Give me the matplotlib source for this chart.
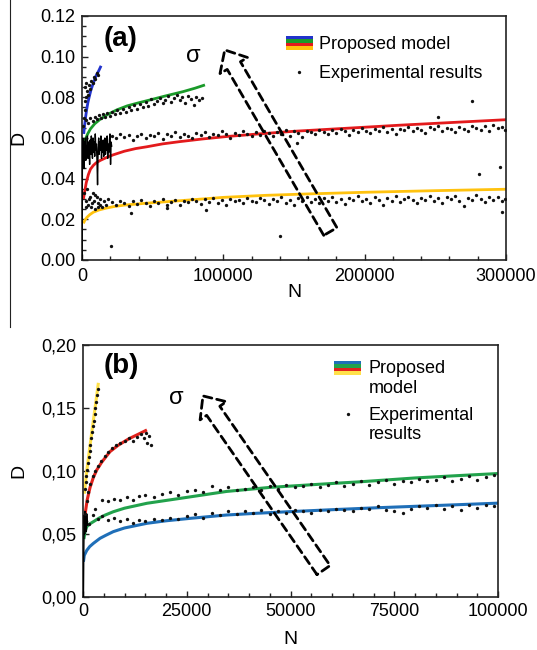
import matplotlib
matplotlib.use("Agg")
import matplotlib.pyplot as plt
from matplotlib.legend_handler import HandlerBase
from matplotlib.lines import Line2D
from matplotlib.patches import Rectangle
from matplotlib.ticker import MultipleLocator, FuncFormatter

plt.rcParams['font.family'] = ['Liberation Sans', 'DejaVu Sans']

# ---------------- panel (a) data ----------------
a_blue_N = [1200, 1800, 2500, 3300, 4200, 5200, 6300, 7500, 8800, 10200, 11800, 13500]
a_blue_D = [0.062, 0.066, 0.070, 0.074, 0.0775, 0.0805, 0.0835, 0.086, 0.0885, 0.091, 0.093, 0.0955]
a_green_N = [1500, 2500, 4000, 6000, 9000, 13000, 18000, 24500, 32000, 40000, 48000, 58000,
             71500, 80000, 87000]
a_green_D = [0.056, 0.0595, 0.062, 0.0645, 0.067, 0.0693, 0.0715, 0.0738, 0.0758, 0.0773,
             0.0787, 0.0805, 0.0828, 0.0845, 0.0861]
a_red_N = [1000, 2000, 3000, 4500, 6000, 8000, 10000, 13000, 17000, 22000, 30000, 38000, 46000,
           57000, 69000, 85000, 102000, 125000, 150000, 175000, 200000, 225000, 250000, 275000,
           300000]
a_red_D = [0.030, 0.034, 0.038, 0.042, 0.0447, 0.0465, 0.0478, 0.049, 0.0503, 0.0517, 0.0535,
           0.0548, 0.0557, 0.0571, 0.0582, 0.0595, 0.0607, 0.062, 0.0633, 0.0643, 0.0653, 0.0663,
           0.0672, 0.0681, 0.069]
a_yellow_N = [1000, 2000, 3500, 5500, 8000, 12000, 17000, 22000, 30000, 45000, 70000, 100000,
              130000, 160000, 200000, 250000, 300000]
a_yellow_D = [0.018, 0.0195, 0.021, 0.0223, 0.0235, 0.0246, 0.0255, 0.0262, 0.027, 0.0279, 0.0292,
              0.0308, 0.0318, 0.0325, 0.0333, 0.0341, 0.0348]

a_blue_exp_N = [800, 1200, 1800, 2300, 2800, 3500, 4200, 5000, 5800, 6600, 7500, 8500,
                9500, 10500, 11500, 2000, 3000]
a_blue_exp_D = [0.066, 0.070, 0.074, 0.078, 0.080, 0.083, 0.081, 0.086, 0.084, 0.088,
                0.087, 0.090, 0.089, 0.092, 0.091, 0.085, 0.087]

a_green_exp_N = [3000, 4500, 6000, 7500, 9000, 10500, 12000, 13500, 15000, 16500, 18000,
                 19500, 21000, 23000, 25000, 27000, 29000, 31000, 33000, 35000, 37000,
                 39000, 41000, 43000, 45000, 47000, 49000, 51000, 53000, 55000, 57000,
                 59000, 61000, 63000, 65000, 67000, 69000, 71000, 73000, 75000, 77000,
                 79000, 81000, 83000, 85000]
a_green_exp_D = [0.0690, 0.0672, 0.0700, 0.0685, 0.0705, 0.0692, 0.0712, 0.0698, 0.0718, 0.0704,
                 0.0725, 0.0710, 0.0730, 0.0716, 0.0738, 0.0722, 0.0745, 0.0730, 0.0752, 0.0738,
                 0.0760, 0.0745, 0.0768, 0.0750, 0.0775, 0.0758, 0.0790, 0.0765, 0.0782, 0.0798,
                 0.0770, 0.0788, 0.0805, 0.0778, 0.0795, 0.0812, 0.0785, 0.0800, 0.0772, 0.0808,
                 0.0790, 0.0760, 0.0802, 0.0785, 0.0795]

a_band_N = [21000, 24000, 27000, 30000, 33000, 36000, 39000, 42000, 45000, 48000,
            51000, 54000, 57000, 60000, 63000, 66000, 69000, 72000, 75000, 78000,
            81000, 84000, 87000, 90000, 93000, 96000, 99000, 102000, 105000, 108000,
            111000, 114000, 117000, 120000, 123000, 126000, 129000, 132000, 135000, 138000,
            141000, 144000, 147000, 150000, 153000, 156000, 159000, 162000, 165000, 168000,
            171000, 174000, 177000, 180000, 183000, 186000, 189000, 192000, 195000, 198000,
            201000, 204000, 207000, 210000, 213000, 216000, 219000, 222000, 225000, 228000,
            231000, 234000, 237000, 240000, 243000, 246000, 249000, 252000, 255000, 258000,
            261000, 264000, 267000, 270000, 273000, 276000, 279000, 282000, 285000, 288000,
            291000, 294000, 297000, 299000]
a_red_exp_D = [0.0612, 0.0598, 0.0620, 0.0605, 0.0615, 0.0592, 0.0610, 0.0622, 0.0600, 0.0614,
               0.0608, 0.0625, 0.0596, 0.0618, 0.0610, 0.0628, 0.0603, 0.0620, 0.0612, 0.0598,
               0.0624, 0.0615, 0.0630, 0.0606, 0.0622, 0.0613, 0.0632, 0.0618, 0.0600, 0.0626,
               0.0615, 0.0634, 0.0620, 0.0608, 0.0628, 0.0617, 0.0636, 0.0624, 0.0610, 0.0630,
               0.0621, 0.0640, 0.0612, 0.0632, 0.0625, 0.0606, 0.0635, 0.0628, 0.0618, 0.0641,
               0.0630, 0.0620, 0.0638, 0.0626, 0.0645, 0.0632, 0.0615, 0.0640, 0.0630, 0.0648,
               0.0636, 0.0624, 0.0645, 0.0634, 0.0652, 0.0628, 0.0642, 0.0620, 0.0646, 0.0638,
               0.0655, 0.0632, 0.0648, 0.0640, 0.0625, 0.0652, 0.0644, 0.0660, 0.0636, 0.0650,
               0.0642, 0.0628, 0.0656, 0.0646, 0.0635, 0.0660, 0.0650, 0.0640, 0.0658, 0.0632,
               0.0662, 0.0648, 0.0655, 0.0640]
a_yellow_exp_D = [0.0285, 0.0270, 0.0292, 0.0278, 0.0265, 0.0288, 0.0275, 0.0296, 0.0282, 0.0268,
                  0.0290, 0.0279, 0.0300, 0.0272, 0.0286, 0.0295, 0.0270, 0.0291, 0.0283, 0.0302,
                  0.0288, 0.0275, 0.0298, 0.0284, 0.0305, 0.0280, 0.0293, 0.0272, 0.0301, 0.0289,
                  0.0296, 0.0278, 0.0304, 0.0290, 0.0283, 0.0307, 0.0294, 0.0276, 0.0300, 0.0288,
                  0.0309, 0.0282, 0.0297, 0.0270, 0.0303, 0.0291, 0.0312, 0.0285, 0.0299, 0.0278,
                  0.0305, 0.0292, 0.0310, 0.0284, 0.0298, 0.0275, 0.0306, 0.0294, 0.0313, 0.0288,
                  0.0300, 0.0282, 0.0309, 0.0295, 0.0270, 0.0304, 0.0291, 0.0315, 0.0286, 0.0301,
                  0.0310, 0.0293, 0.0278, 0.0307, 0.0296, 0.0316, 0.0288, 0.0303, 0.0280, 0.0312,
                  0.0298, 0.0314, 0.0290, 0.0268, 0.0305, 0.0294, 0.0318, 0.0300, 0.0286, 0.0309,
                  0.0296, 0.0312, 0.0290, 0.0302]
a_yellow_early_N = [1500, 2500, 3500, 4500, 5500, 6500, 7500, 8500, 9500, 10500, 11500,
                    12500, 14000, 15500, 17000, 18500, 3000, 5000, 7000, 9000, 11000, 13000]
a_yellow_early_D = [0.033, 0.029, 0.035, 0.027, 0.031, 0.026, 0.033, 0.029, 0.025, 0.031, 0.028,
                    0.030, 0.026, 0.029, 0.027, 0.030, 0.026, 0.030, 0.028, 0.032, 0.026, 0.027]
a_outlier_N = [152000, 252000, 276000, 281000, 296000, 297000, 140000, 20300, 88000, 35000, 60000]
a_outlier_D = [0.0575, 0.0703, 0.078, 0.0423, 0.0456, 0.0238, 0.0118, 0.0069, 0.0246, 0.023, 0.0256]

a_noise_N = [100, 200, 300, 400, 600, 900, 1200, 1500, 1800, 2100, 2400, 2700, 3000,
             3400, 3800, 4200, 4600, 5000, 5400, 5800, 6200, 6600, 7000, 7400, 7800, 8200,
             8600, 9000, 9400, 9800, 10200, 10600, 11000, 11400, 11800, 12200, 12600, 13000,
             13400, 13800, 14200, 14600, 15000, 15400, 15800, 16200, 16600, 17000, 17400,
             17800, 18200, 18600, 19000, 19400, 19800, 20200, 20600, 21000]
a_noise_D = [0.000, 0.030, 0.058, 0.046, 0.060, 0.050, 0.057, 0.045, 0.058, 0.052,
             0.060, 0.049, 0.056, 0.053, 0.061, 0.050, 0.058, 0.054, 0.047, 0.059,
             0.052, 0.061, 0.055, 0.050, 0.060, 0.053, 0.058, 0.051, 0.062, 0.054,
             0.057, 0.049, 0.037, 0.055, 0.060, 0.052, 0.058, 0.054, 0.061, 0.050,
             0.057, 0.053, 0.059, 0.051, 0.056, 0.060, 0.052, 0.058, 0.054, 0.061,
             0.050, 0.057, 0.053, 0.059, 0.062, 0.047, 0.058, 0.056]

# ---------------- panel (b) data ----------------
b_yellow_N = [300, 900, 1600, 2400, 3100, 3700]
b_yellow_D = [0.082, 0.100, 0.118, 0.138, 0.155, 0.170]
b_red_N = [300, 600, 1000, 1700, 2500, 3300, 4500, 6500, 8500, 11000, 13500, 15400]
b_red_D = [0.058, 0.068, 0.077, 0.087, 0.095, 0.1008, 0.107, 0.1154, 0.1205, 0.1255, 0.1295, 0.1326]
b_green_N = [200, 500, 900, 1600, 2500, 3800, 5300, 7300, 10000, 15400, 23400, 34600, 45000,
             56000, 67000, 80000, 90000, 100000]
b_green_D = [0.046, 0.052, 0.0558, 0.058, 0.0598, 0.0625, 0.065, 0.0677, 0.0705, 0.0744, 0.0783,
             0.0838, 0.087, 0.0893, 0.0915, 0.0945, 0.0963, 0.098]
b_blue_N = [100, 300, 900, 1600, 2500, 4100, 5500, 7300, 10000, 15400, 20000, 26000, 34600,
            42000, 52000, 62000, 72000, 85000, 100000]
b_blue_D = [0.028, 0.033, 0.037, 0.040, 0.0426, 0.0466, 0.049, 0.0519, 0.0548, 0.0585, 0.0605,
            0.0625, 0.0651, 0.0665, 0.0681, 0.0696, 0.071, 0.0726, 0.0745]

b_yellow_exp_N = [400, 600, 800, 1000, 1200, 1400, 1600, 1800, 2000, 2200, 2400, 2600,
                  2800, 3000, 3200, 3400, 3600]
b_yellow_exp_D = [0.086, 0.091, 0.096, 0.101, 0.106, 0.111, 0.116, 0.121, 0.126, 0.131,
                  0.136, 0.140, 0.145, 0.150, 0.155, 0.160, 0.165]
b_red_exp_N = [500, 900, 1300, 1800, 2300, 2900, 3600, 4400, 5200, 6000, 7000, 8000, 9000,
               10000, 11000, 12000, 13000, 14000, 14800, 15500, 16000, 16300, 15200]
b_red_exp_D = [0.066, 0.076, 0.083, 0.090, 0.096, 0.100, 0.104, 0.108, 0.112, 0.115, 0.118,
               0.121, 0.122, 0.124, 0.126, 0.124, 0.127, 0.129, 0.126, 0.122, 0.128, 0.121, 0.130]
b_green_exp_N = [3000, 4500, 6000, 7500, 9000, 10500, 12000, 13500, 15000, 17000, 19000,
                 21000, 23000, 25000, 27000, 29000, 31000, 33000, 35000, 37000, 39000, 41000,
                 43000, 45000, 47000, 49000, 51000, 53000, 55000, 57000, 59000, 61000, 63000,
                 65000, 67000, 69000, 71000, 73000, 75000, 77000, 79000, 81000, 83000, 85000,
                 87000, 89000, 91000, 93000, 95000, 97000, 99000]
b_green_exp_D = [0.070, 0.077, 0.076, 0.078, 0.077, 0.079, 0.077, 0.080, 0.081, 0.079,
                 0.082, 0.083, 0.081, 0.084, 0.085, 0.083, 0.088, 0.085, 0.087, 0.085,
                 0.086, 0.087, 0.085, 0.088, 0.086, 0.089, 0.087, 0.088, 0.090, 0.087,
                 0.089, 0.091, 0.088, 0.090, 0.092, 0.089, 0.091, 0.093, 0.090, 0.092,
                 0.091, 0.094, 0.092, 0.093, 0.095, 0.092, 0.094, 0.096, 0.093, 0.095, 0.097]
b_blue_exp_N = [1500, 2500, 3500, 4500, 6000, 7500, 9000, 10500, 12000, 13500, 15000, 17000,
                19000, 21000, 23000, 25000, 27000, 29000, 31000, 33000, 35000, 37000, 39000,
                41000, 43000, 45000, 47000, 49000, 51000, 53000, 55000, 57000, 59000, 61000,
                63000, 65000, 67000, 69000, 71000, 73000, 75000, 77000, 79000, 81000, 83000,
                85000, 87000, 89000, 91000, 93000, 95000, 97000, 99000]
b_blue_exp_D = [0.058, 0.065, 0.062, 0.064, 0.061, 0.063, 0.060, 0.062, 0.059, 0.061,
                0.060, 0.062, 0.061, 0.063, 0.062, 0.064, 0.066, 0.063, 0.067, 0.065,
                0.068, 0.066, 0.068, 0.067, 0.069, 0.066, 0.068, 0.067, 0.069, 0.068,
                0.067, 0.069, 0.068, 0.070, 0.069, 0.068, 0.071, 0.070, 0.072, 0.069,
                0.068, 0.067, 0.070, 0.072, 0.071, 0.073, 0.070, 0.072, 0.069, 0.073,
                0.071, 0.073, 0.072]
b_noise_N = [100, 200, 300, 400, 500, 600, 700, 800, 900, 1000, 1100]
b_noise_D = [0.000, 0.040, 0.065, 0.050, 0.068, 0.055, 0.062, 0.052, 0.066, 0.057, 0.060]

A_COLORS = ['#2233cc', '#1a9a2a', '#e31a1c', '#ffc20e']
B_COLORS = ['#1f6fb8', '#22a24c', '#e0221c', '#ffe14a']
DOT_MS = 2.4


class StripeHandler(HandlerBase):
    """Legend key made of stacked colour stripes (one per model curve)."""

    def __init__(self, colors, yshift=0.0):
        super().__init__()
        self.colors = colors
        self.yshift = yshift

    def create_artists(self, legend, orig_handle, xdescent, ydescent,
                       width, height, fontsize, trans):
        n = len(self.colors)
        h = height / n
        y0 = -ydescent + self.yshift * fontsize
        return [Rectangle((-xdescent, y0 + height - (i + 1) * h), width, h,
                          facecolor=c, edgecolor='none', transform=trans)
                for i, c in enumerate(self.colors)]


class DotHandler(HandlerBase):
    def __init__(self, yshift=0.0):
        super().__init__()
        self.yshift = yshift

    def create_artists(self, legend, orig_handle, xdescent, ydescent,
                       width, height, fontsize, trans):
        return [Line2D([-xdescent + width / 2], [-ydescent + height / 2 + self.yshift * fontsize],
                       ls='none', marker='o', ms=DOT_MS, mew=0, color='#111111',
                       transform=trans)]


def style_axes(ax):
    ax.tick_params(direction='in', which='both', top=False, right=False,
                   labelsize=13, color='#222222')
    ax.tick_params(which='major', length=4, width=1)
    ax.tick_params(which='minor', length=3, width=1)
    for s in ax.spines.values():
        s.set_linewidth(1.2)
        s.set_color('#222222')


def dots(ax, n, d):
    ax.plot(n, d, 'o', color='#111111', ms=DOT_MS, mew=0, zorder=3)


fig = plt.figure(figsize=(5.37, 6.5), dpi=100)
fig.add_artist(Line2D([10 / 537, 10 / 537], [1.0, 1 - 327 / 650], color='#222222',
                      lw=0.8, transform=fig.transFigure))

# ====================== (a) ======================
ax = fig.add_axes([0.1527, 0.6, 0.7896, 0.3754])
style_axes(ax)
ax.plot(a_noise_N, a_noise_D, color='black', lw=1.0, zorder=3)
dots(ax, a_blue_exp_N, a_blue_exp_D)
dots(ax, a_green_exp_N, a_green_exp_D)
dots(ax, a_band_N, a_red_exp_D)
dots(ax, a_band_N[:len(a_yellow_exp_D)], a_yellow_exp_D)
dots(ax, a_yellow_early_N, a_yellow_early_D)
dots(ax, a_outlier_N, a_outlier_D)
for n, d, c in zip([a_blue_N, a_green_N, a_red_N, a_yellow_N],
                   [a_blue_D, a_green_D, a_red_D, a_yellow_D], A_COLORS):
    ax.plot(n, d, color=c, lw=2.0, zorder=2, solid_capstyle='butt')
ax.set_xlim(0, 300000)
ax.set_ylim(0, 0.12)
ax.xaxis.set_major_locator(MultipleLocator(100000))
ax.xaxis.set_minor_locator(MultipleLocator(20000))
ax.yaxis.set_major_locator(MultipleLocator(0.02))
ax.yaxis.set_minor_locator(MultipleLocator(0.005))
ax.yaxis.set_major_formatter(FuncFormatter(lambda v, p: f"{v:.2f}"))
ax.tick_params(axis='x', pad=6)
ax.tick_params(axis='y', pad=5)
ax.set_xlabel('N', fontsize=14)
ax.set_ylabel('D', fontsize=14)
ax.xaxis.set_label_coords(0.5, -0.10)
ax.yaxis.set_label_coords(-0.13, 0.5)
ax.text(0.05, 0.96, '(a)', transform=ax.transAxes, fontsize=20, fontweight='bold',
        va='top', ha='left')
ax.text(79000, 0.1004, 'σ', fontsize=17, ha='center', va='center')
ax.annotate('', xy=(101000, 0.1033), xytext=(175700, 0.0140),
            arrowprops=dict(arrowstyle='simple,head_length=1.3,head_width=2.3,tail_width=1.1',
                            fc='none', ec='black', lw=2.0, ls=(0, (3, 1.8)),
                            shrinkA=0, shrinkB=0, mutation_scale=10))
stripe_a = Rectangle((0, 0), 1, 1)
dot_a = Line2D([], [])
ax.legend([stripe_a, dot_a], ['Proposed model', 'Experimental results'],
          handler_map={stripe_a: StripeHandler(A_COLORS), dot_a: DotHandler()},
          loc='upper left', bbox_to_anchor=(0.481, 0.918), frameon=False, fontsize=13,
          handlelength=1.5, handleheight=0.8, handletextpad=0.35, labelspacing=0.65,
          borderpad=0, borderaxespad=0)

# ====================== (b) ======================
ax = fig.add_axes([0.1546, 0.0815, 0.7728, 0.3877])
style_axes(ax)
ax.plot(b_noise_N, b_noise_D, color='black', lw=1.0, zorder=3)
dots(ax, b_yellow_exp_N, b_yellow_exp_D)
dots(ax, b_red_exp_N, b_red_exp_D)
dots(ax, b_green_exp_N, b_green_exp_D)
dots(ax, b_blue_exp_N, b_blue_exp_D)
for n, d, c in zip([b_blue_N, b_green_N, b_red_N, b_yellow_N],
                   [b_blue_D, b_green_D, b_red_D, b_yellow_D], B_COLORS):
    ax.plot(n, d, color=c, lw=2.2, zorder=2, solid_capstyle='butt')
ax.set_xlim(0, 100000)
ax.set_ylim(0, 0.20)
ax.xaxis.set_major_locator(MultipleLocator(25000))
ax.xaxis.set_minor_locator(MultipleLocator(5000))
ax.yaxis.set_major_locator(MultipleLocator(0.05))
ax.yaxis.set_major_formatter(FuncFormatter(lambda v, p: f"{v:.2f}".replace('.', ',')))
ax.tick_params(axis='x', pad=4)
ax.tick_params(axis='y', pad=5)
ax.set_xlabel('N', fontsize=14)
ax.set_ylabel('D', fontsize=14)
ax.xaxis.set_label_coords(0.5, -0.133)
ax.yaxis.set_label_coords(-0.135, 0.5)
ax.text(0.05, 0.97, '(b)', transform=ax.transAxes, fontsize=20, fontweight='bold',
        va='top', ha='left')
ax.text(22500, 0.158, 'σ', fontsize=17, ha='center', va='center')
ax.annotate('', xy=(28900, 0.1596), xytext=(57960, 0.0214),
            arrowprops=dict(arrowstyle='simple,head_length=1.3,head_width=2.3,tail_width=1.15',
                            fc='none', ec='black', lw=2.0, ls=(0, (3, 1.8)),
                            shrinkA=0, shrinkB=0, mutation_scale=10))
stripe_b = Rectangle((0, 0), 1, 1)
dot_b = Line2D([], [])
ax.legend([stripe_b, dot_b], ['Proposed\nmodel', 'Experimental\nresults'],
          handler_map={stripe_b: StripeHandler(B_COLORS, yshift=0.6),
                       dot_b: DotHandler(yshift=0.6)},
          loc='upper left', bbox_to_anchor=(0.605, 0.94), frameon=False, fontsize=13,
          handlelength=1.5, handleheight=0.8, handletextpad=0.4, labelspacing=0.55,
          borderpad=0, borderaxespad=0)

fig.savefig('out.png', dpi=100)
